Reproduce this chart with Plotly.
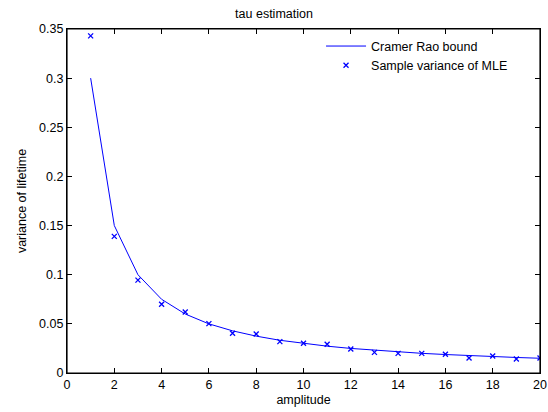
import plotly.graph_objects as go

amplitude = list(range(1, 21))
crb = [0.3, 0.15, 0.1, 0.075, 0.06, 0.05, 0.0429, 0.0375, 0.0333, 0.03,
       0.0273, 0.025, 0.0231, 0.0214, 0.02, 0.0188, 0.0176, 0.0167, 0.0158, 0.015]
sample_var = [0.343, 0.139, 0.0945, 0.0700, 0.0620, 0.0502, 0.0404, 0.0396, 0.0319, 0.0302,
              0.0292, 0.0244, 0.0210, 0.0200, 0.0200, 0.0190, 0.0153, 0.0173, 0.0142, 0.0153]
x_ticks = list(range(0, 21, 2))
y_ticks = [0, 0.05, 0.1, 0.15, 0.2, 0.25, 0.3, 0.35]

FS = 12.5
fig = go.Figure()
fig.add_trace(go.Scatter(x=amplitude, y=crb, mode="lines", name="Cramer Rao bound",
                         line=dict(color="#0000ff", width=1)))
fig.add_trace(go.Scatter(x=amplitude, y=sample_var, mode="markers", name="Sample variance of MLE",
                         marker=dict(symbol="x-thin", size=5, color="#0000ff",
                                     line=dict(color="#0000ff", width=1.3))))

axis_common = dict(showgrid=False, zeroline=False, showline=True, linecolor="black", linewidth=1.2,
                   mirror="allticks", ticks="inside", ticklen=5, tickwidth=1, tickcolor="black",
                   automargin=False, tickfont=dict(size=FS, color="black"))
fig.update_layout(
    width=548, height=412,
    margin=dict(l=67, r=8, t=29, b=39),
    paper_bgcolor="white", plot_bgcolor="white",
    font=dict(family="Liberation Sans, Arial, sans-serif", size=FS, color="black"),
    title=dict(text="tau estimation", x=0.5, xanchor="center", y=0.966, yanchor="middle",
               font=dict(size=FS)),
    xaxis=dict(range=[0, 20], tickvals=x_ticks, ticklabelstandoff=0,
               title=dict(text="amplitude", standoff=4, font=dict(size=FS)), **axis_common),
    yaxis=dict(range=[0, 0.35], tickvals=y_ticks,
               title=dict(text="variance of lifetime", standoff=9, font=dict(size=FS)), **axis_common),
    legend=dict(x=0.943, y=0.993, xanchor="right", yanchor="top", bgcolor="rgba(255,255,255,0)",
                borderwidth=0, font=dict(size=FS), tracegroupgap=0, itemwidth=40),
    showlegend=True,
    shapes=[dict(type="rect", xref="paper", yref="paper", x0=0, x1=1, y0=0, y1=1,
                 line=dict(color="black", width=1.2), layer="above")],
)
fig.write_html("out.html", config={"displayModeBar": False},
               post_script="document.body.style.margin='0';document.body.style.overflow='hidden';")
